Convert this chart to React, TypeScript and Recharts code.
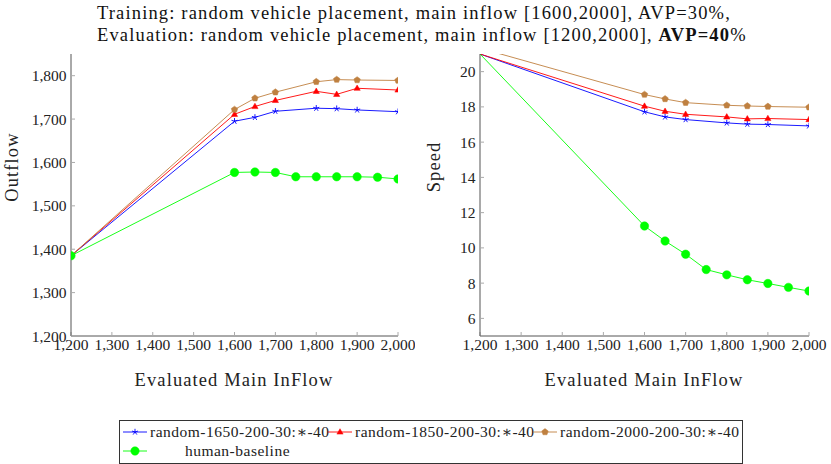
import React from 'react';
import { LineChart, Line, XAxis, YAxis } from 'recharts';

// evaluated main inflow (x) for the RL models and the human baseline
const INFLOW = [1200, 1600, 1650, 1700, 1800, 1850, 1900, 2000];
const INFLOW_HUMAN = [1200, 1600, 1650, 1700, 1750, 1800, 1850, 1900, 1950, 2000];

const X_TICKS = [1200, 1300, 1400, 1500, 1600, 1700, 1800, 1900, 2000];
const OUTFLOW_TICKS = [1200, 1300, 1400, 1500, 1600, 1700, 1800];
const SPEED_TICKS = [6, 8, 10, 12, 14, 16, 18, 20];

const OUTFLOW_1650 = [1385, 1695, 1704, 1718, 1725, 1724, 1721, 1717];
const OUTFLOW_1850 = [1385, 1711, 1729, 1743, 1764, 1757, 1771, 1767];
const OUTFLOW_2000 = [1385, 1722, 1748, 1762, 1786, 1791, 1790, 1789];
const OUTFLOW_HUMAN = [1385, 1577, 1578, 1577, 1567, 1567, 1567, 1567, 1566, 1562];

const SPEED_1650 = [21, 17.72, 17.43, 17.28, 17.09, 17.02, 17.0, 16.92];
const SPEED_1850 = [21, 18.04, 17.75, 17.58, 17.43, 17.32, 17.34, 17.28];
const SPEED_2000 = [21.33, 18.7, 18.45, 18.24, 18.09, 18.05, 18.02, 17.98];
const SPEED_HUMAN = [21, 11.24, 10.39, 9.64, 8.77, 8.47, 8.19, 7.98, 7.76, 7.55];

const SERIES = [
  { name: 'random-1650-200-30:\u2217-40', color: '#0000ff', marker: 'star' },
  { name: 'random-1850-200-30:\u2217-40', color: '#ff0000', marker: 'triangle' },
  { name: 'random-2000-200-30:\u2217-40', color: '#bf8040', marker: 'pentagon' },
  { name: 'human-baseline', color: '#00ff00', marker: 'circle' },
];

const FONT = '"Liberation Serif", "DejaVu Serif", serif';
const FRAME = '#555555';
const TICK = '#aaaaaa';
const TEXT = '#222222';

const rows = (xs: number[], ys: number[]) => xs.map((x, i) => ({ x, y: ys[i] }));

function Marker({ kind, cx, cy, color }: { kind: string; cx: number; cy: number; color: string }) {
  if (kind === 'star') {
    const spokes = [0, 1, 2, 3, 4].map((k) => {
      const a = -Math.PI / 2 + (k * 2 * Math.PI) / 5;
      return (
        <line key={k} x1={cx} y1={cy} x2={cx + 3.2 * Math.cos(a)} y2={cy + 3.2 * Math.sin(a)} stroke={color} strokeWidth={0.9} />
      );
    });
    return <g>{spokes}</g>;
  }
  if (kind === 'triangle') {
    const r = 3.6;
    const pts = [0, 1, 2]
      .map((k) => {
        const a = -Math.PI / 2 + (k * 2 * Math.PI) / 3;
        return `${cx + r * Math.cos(a)},${cy + 0.3 + r * Math.sin(a)}`;
      })
      .join(' ');
    return <polygon points={pts} fill={color} stroke={color} strokeWidth={0.5} />;
  }
  if (kind === 'pentagon') {
    const r = 3.4;
    const pts = [0, 1, 2, 3, 4]
      .map((k) => {
        const a = -Math.PI / 2 + (k * 2 * Math.PI) / 5;
        return `${cx + r * Math.cos(a)},${cy + r * Math.sin(a)}`;
      })
      .join(' ');
    return <polygon points={pts} fill={color} stroke={color} strokeWidth={0.5} />;
  }
  return <circle cx={cx} cy={cy} r={4.2} fill={color} stroke={color} strokeWidth={0.5} />;
}

function makeDot(kind: string, color: string, yMax: number) {
  return (props: any) => {
    const { cx, cy, payload, index } = props;
    // markers sitting on/over the top border are clipped away in the original
    if (cx == null || cy == null || payload.y >= yMax) return <g key={index} />;
    return (
      <g key={index}>
        <Marker kind={kind} cx={cx} cy={cy} color={color} />
      </g>
    );
  };
}

const fmt = (v: number) => v.toLocaleString('en-US');
const tickStyle = { fontSize: 15.5, fontFamily: FONT, fill: TEXT };

function Panel({
  left,
  width,
  yWidth,
  right,
  yDomain,
  yTicks,
  series,
}: {
  left: number;
  width: number;
  yWidth: number;
  right: number;
  yDomain: [number, number];
  yTicks: number[];
  series: { x: number; y: number }[][];
}) {
  return (
    <div style={{ position: 'absolute', left, top: 0 }}>
      <LineChart width={width} height={400} margin={{ top: 54, right, bottom: 34, left: 0 }}>
        <XAxis
          type="number"
          dataKey="x"
          domain={[1200, 2000]}
          ticks={X_TICKS}
          tickFormatter={fmt}
          allowDataOverflow
          height={30}
          tick={tickStyle}
          tickSize={-4}
          tickMargin={7}
          axisLine={{ stroke: FRAME }}
          tickLine={{ stroke: TICK }}
          interval={0}
        />
        <XAxis
          xAxisId="top"
          orientation="top"
          type="number"
          domain={[1200, 2000]}
          ticks={X_TICKS}
          allowDataOverflow
          height={0}
          tick={false}
          tickSize={-4}
          axisLine={{ stroke: FRAME }}
          tickLine={{ stroke: TICK }}
          interval={0}
        />
        <YAxis
          type="number"
          domain={yDomain}
          ticks={yTicks}
          tickFormatter={fmt}
          allowDataOverflow
          width={yWidth}
          tick={tickStyle}
          tickSize={-4}
          tickMargin={8.5}
          axisLine={{ stroke: FRAME }}
          tickLine={{ stroke: TICK }}
          interval={0}
        />
        <YAxis
          yAxisId="right"
          orientation="right"
          type="number"
          domain={yDomain}
          ticks={yTicks}
          allowDataOverflow
          width={0}
          tick={false}
          tickSize={-4}
          axisLine={{ stroke: FRAME }}
          tickLine={{ stroke: TICK }}
          interval={0}
        />
        {series.map((data, i) => (
          <Line
            key={SERIES[i].name}
            data={data}
            dataKey="y"
            type="linear"
            stroke={SERIES[i].color}
            strokeWidth={0.9}
            dot={makeDot(SERIES[i].marker, SERIES[i].color, yDomain[1])}
            activeDot={false}
            isAnimationActive={false}
          />
        ))}
      </LineChart>
    </div>
  );
}

function LegendSample({ kind, color }: { kind: string; color: string }) {
  return (
    <svg width={24} height={10} style={{ display: 'block' }}>
      <line x1={0} y1={5} x2={24} y2={5} stroke={color} strokeWidth={0.9} />
      <Marker kind={kind} cx={12} cy={5} color={color} />
    </svg>
  );
}

export default function App() {
  const label: React.CSSProperties = {
    position: 'absolute',
    fontFamily: FONT,
    fontSize: 18.5,
    letterSpacing: 1.1,
    color: TEXT,
    whiteSpace: 'nowrap',
  };
  return (
    <div style={{ position: 'absolute', left: 0, top: 0, width: 831, height: 464, background: '#fff', overflow: 'hidden' }}>
      <div style={{ ...label, left: 97, top: 2, lineHeight: '22px', letterSpacing: 1.15, color: '#111' }}>
        <div>Training: random vehicle placement, main inflow [1600,2000], AVP=30%,</div>
        <div>
          Evaluation: random vehicle placement, main inflow [1200,2000], <b>AVP=40</b>%
        </div>
      </div>

      <Panel
        left={0}
        width={415}
        yWidth={71}
        right={17}
        yDomain={[1200, 1850]}
        yTicks={OUTFLOW_TICKS}
        series={[
          rows(INFLOW, OUTFLOW_1650),
          rows(INFLOW, OUTFLOW_1850),
          rows(INFLOW, OUTFLOW_2000),
          rows(INFLOW_HUMAN, OUTFLOW_HUMAN),
        ]}
      />
      <Panel
        left={415}
        width={416}
        yWidth={65}
        right={22}
        yDomain={[5, 21]}
        yTicks={SPEED_TICKS}
        series={[
          rows(INFLOW, SPEED_1650),
          rows(INFLOW, SPEED_1850),
          rows(INFLOW, SPEED_2000),
          rows(INFLOW_HUMAN, SPEED_HUMAN),
        ]}
      />

      <div style={{ ...label, left: 12, top: 167, transform: 'translate(-50%, -50%) rotate(-90deg)' }}>Outflow</div>
      <div style={{ ...label, left: 434, top: 167, transform: 'translate(-50%, -50%) rotate(-90deg)' }}>Speed</div>
      <div style={{ ...label, left: 234, top: 380, transform: 'translate(-50%, -50%)' }}>Evaluated Main InFlow</div>
      <div style={{ ...label, left: 644, top: 380, transform: 'translate(-50%, -50%)' }}>Evaluated Main InFlow</div>

      <div
        style={{
          position: 'absolute',
          left: 119,
          top: 420,
          width: 624,
          height: 44,
          border: '1px solid #333',
          boxSizing: 'border-box',
          fontFamily: FONT,
          fontSize: 15.5,
          letterSpacing: 0.5,
          color: TEXT,
          padding: '2px 0 0 3px',
          display: 'grid',
          gridTemplateColumns: '24px 175px 24px 175px 24px 175px',
          gridAutoRows: '18.5px',
          columnGap: 3,
          alignItems: 'center',
          justifyContent: 'start',
        }}
      >
        {SERIES.map((s) => (
          <React.Fragment key={s.name}>
            <LegendSample kind={s.marker} color={s.color} />
            <div style={{ textAlign: 'center', whiteSpace: 'nowrap' }}>{s.name}</div>
          </React.Fragment>
        ))}
      </div>
    </div>
  );
}
